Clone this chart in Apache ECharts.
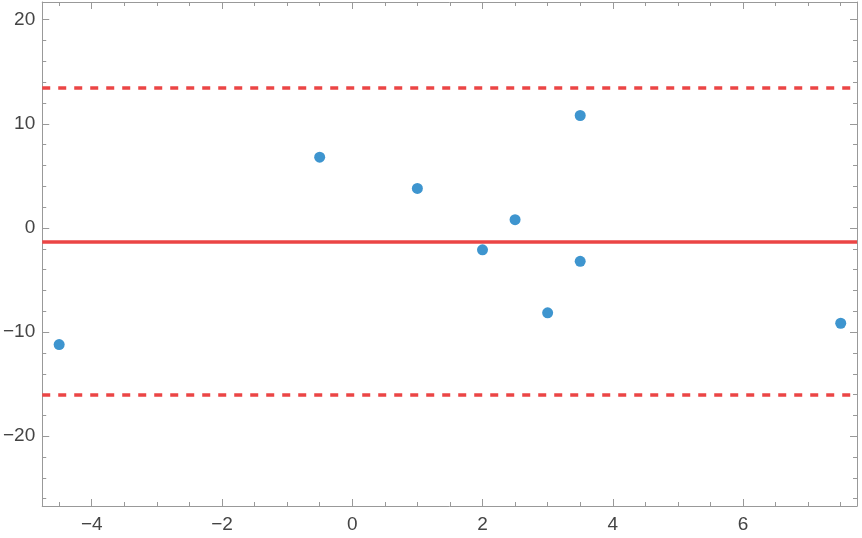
<!DOCTYPE html>
<html>
<head>
<meta charset="utf-8">
<script src="https://cdn.jsdelivr.net/npm/echarts@6/dist/echarts.min.js"></script>
<style>
html,body{margin:0;padding:0;background:#fff;}
#chart{width:862px;height:538px;}
</style>
</head>
<body>
<div id="chart"></div>
<script>
// Data
var xValues = [-4.5, -0.5, 1, 2, 2.5, 3, 3.5, 3.5, 7.5];
var yValues = [-11.2, 6.8, 3.8, -2.1, 0.8, -8.15, 10.8, -3.2, -9.15];
var meanLine = -1.3;
var upperLimit = 13.45;
var lowerLimit = -16.05;
var xRange = [-4.76, 7.75];
var yRange = [-26.7, 21.7];

var points = xValues.map(function (x, i) { return [x, yValues[i]]; });

var axisColor = '#999999';
var labelStyle = {
  color: '#444444',
  fontSize: 19,
  fontFamily: 'Liberation Sans, Arial, sans-serif',
  formatter: function (v) { return String(v).replace('-', '\u2212'); }
};

function xAx(pos, showLabel) {
  return {
    type: 'value', position: pos, min: xRange[0], max: xRange[1], splitNumber: 6,
    axisLine: { show: true, onZero: false, lineStyle: { color: axisColor, width: 1 } },
    axisTick: { show: true, inside: true, length: 7, lineStyle: { color: axisColor } },
    minorTick: { show: true, splitNumber: 4, length: 4, lineStyle: { color: axisColor } },
    splitLine: { show: false },
    axisLabel: Object.assign({ show: showLabel, margin: 9, showMinLabel: false, showMaxLabel: false }, labelStyle)
  };
}
function yAx(pos, showLabel) {
  return {
    type: 'value', position: pos, min: yRange[0], max: yRange[1], splitNumber: 5,
    axisLine: { show: true, onZero: false, lineStyle: { color: axisColor, width: 1 } },
    axisTick: { show: true, inside: true, length: 7, lineStyle: { color: axisColor } },
    minorTick: { show: true, splitNumber: 5, length: 4, lineStyle: { color: axisColor } },
    splitLine: { show: false },
    axisLabel: Object.assign({ show: showLabel, margin: 7, showMinLabel: false, showMaxLabel: false }, labelStyle)
  };
}

var chart = echarts.init(document.getElementById('chart'), null, { renderer: 'canvas' });
chart.setOption({
  animation: false,
  backgroundColor: '#ffffff',
  grid: { left: 41, right: 5, top: 2, bottom: 32, containLabel: false },
  xAxis: [xAx('bottom', true), xAx('top', false)],
  yAxis: [yAx('left', true), yAx('right', false)],
  series: [{
    type: 'scatter',
    data: points,
    symbolSize: 11,
    itemStyle: { color: '#3E95CF', opacity: 1 },
    markLine: {
      silent: true,
      symbol: ['none', 'none'],
      label: { show: false },
      animation: false,
      data: [
        { yAxis: meanLine, lineStyle: { color: '#EB4545', width: 3.5, type: 'solid' } },
        { yAxis: upperLimit, lineStyle: { color: '#EB4545', width: 3.5, type: [8, 8] } },
        { yAxis: lowerLimit, lineStyle: { color: '#EB4545', width: 3.5, type: [8, 8] } }
      ]
    },
    z: 3
  }]
});
</script>
</body>
</html>
